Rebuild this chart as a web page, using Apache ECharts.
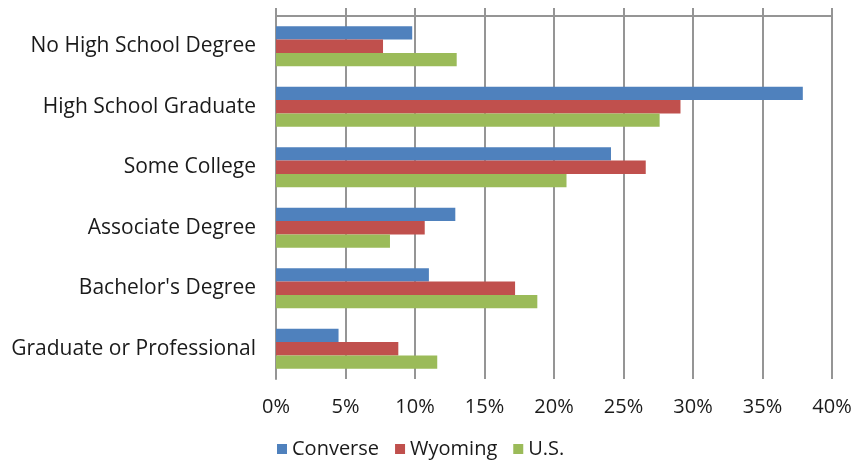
<!DOCTYPE html>
<html lang="en">
  <head>
    <meta charset="UTF-8" />
    <title>Educational Attainment</title>
    <style>
      * {
        padding: 0;
        margin: 0;
      }
      body {
        background: #fff;
      }
      #chart {
        width: 855px;
        height: 462px;
      }
    </style>
    <script src="https://cdn.jsdelivr.net/npm/echarts@6/dist/echarts.min.js"></script>
  </head>
  <body>
    <div id="chart"></div>
  </body>
  <script>
    // data (percent)
    const categories = [
      "No High School Degree",
      "High School Graduate",
      "Some College",
      "Associate Degree",
      "Bachelor's Degree",
      "Graduate or Professional",
    ];
    const converse = [9.8, 37.9, 24.1, 12.9, 11.0, 4.5];
    const wyoming = [7.7, 29.1, 26.6, 10.7, 17.2, 8.8];
    const us = [13.0, 27.6, 20.9, 8.2, 18.8, 11.6];
    const seriesNames = ["Converse", "Wyoming", "U.S."];
    const colors = ["#4F81BD", "#C0504D", "#9BBB59"];

    const font = "'Open Sans', sans-serif";
    const gridColor = "#959595";
    const textColor = "#1a1a1a";

    const myChart = echarts.init(document.getElementById("chart"));

    const makeSeries = (name, data, i) => ({
      name: name,
      type: "bar",
      data: data,
      xAxisIndex: 0,
      barGap: 0,
      barCategoryGap: "34%",
      itemStyle: { color: colors[i] },
    });

    myChart.setOption({
      animation: false,
      textStyle: { fontFamily: font },
      grid: { left: 276, right: 23, top: 16, bottom: 83 },
      legend: {
        left: 272,
        top: 434,
        icon: "rect",
        itemWidth: 10,
        itemHeight: 10,
        itemGap: 16,
        textStyle: { fontSize: 20, color: textColor, fontFamily: font },
        data: seriesNames,
      },
      xAxis: [
        {
          type: "value",
          min: 0,
          max: 40,
          interval: 5,
          position: "bottom",
          axisLine: { show: false },
          axisTick: { show: false },
          axisLabel: {
            formatter: "{value}%",
            fontSize: 20,
            color: textColor,
            margin: 18,
          },
          splitLine: { lineStyle: { color: gridColor, width: 2 } },
        },
        {
          // top line with the small upward ticks
          type: "value",
          min: 0,
          max: 40,
          interval: 5,
          position: "top",
          axisLine: { show: true, lineStyle: { color: gridColor, width: 2 } },
          axisTick: { show: true, length: 8, lineStyle: { color: gridColor, width: 2 } },
          axisLabel: { show: false },
          splitLine: { show: false },
        },
      ],
      yAxis: {
        type: "category",
        data: categories,
        inverse: true,
        axisLine: { lineStyle: { color: gridColor, width: 2 } },
        axisTick: { length: 8, lineStyle: { color: gridColor, width: 2 } },
        axisLabel: { fontSize: 21, color: textColor, margin: 20 },
      },
      series: [
        makeSeries(seriesNames[0], converse, 0),
        makeSeries(seriesNames[1], wyoming, 1),
        makeSeries(seriesNames[2], us, 2),
      ],
    });
  </script>
</html>
